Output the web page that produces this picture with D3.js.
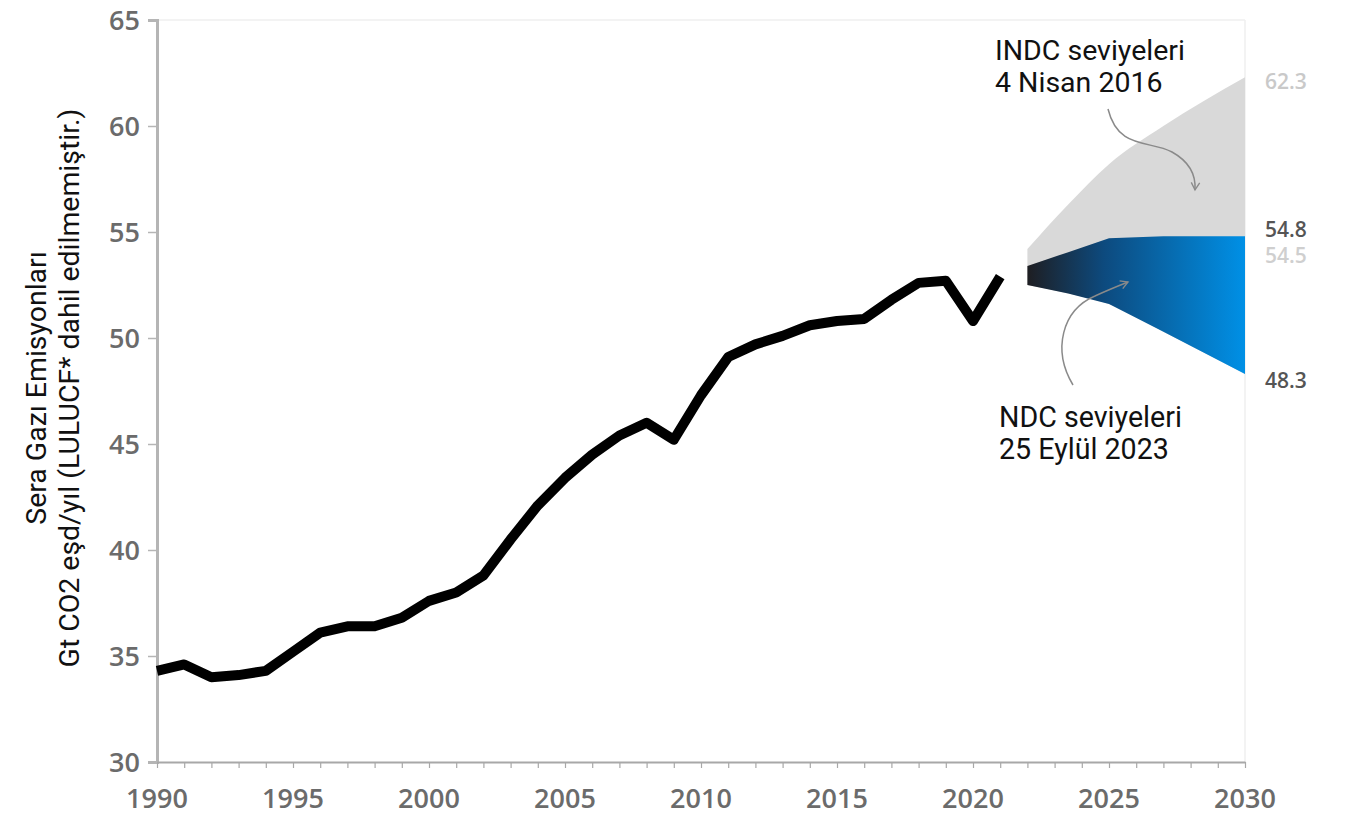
<!DOCTYPE html>
<html>
<head>
<meta charset="utf-8">
<script src="https://cdn.jsdelivr.net/npm/d3@7"></script>
<style>
  body { margin: 0; background: #fff; }
  svg { display: block; }
</style>
</head>
<body>
<div id="chart"></div>
<script>
var years = d3.range(1990, 2022);
var emissions = [34.3, 34.6, 34.0, 34.1, 34.3, 35.2, 36.1, 36.4, 36.4, 36.8,
                 37.6, 38.0, 38.8, 40.5, 42.1, 43.4, 44.5, 45.4, 46.0, 45.2,
                 47.3, 49.1, 49.7, 50.1, 50.6, 50.8, 50.9, 51.8, 52.6, 52.7,
                 50.8, 52.9];

// projection fans
var fanYears = [2022, 2023.5, 2025, 2027, 2030];
var indcHigh = [54.2, 56.3, 58.2, 60.0, 62.3];
var ndcHigh = [53.4, 54.05, 54.7, 54.8, 54.8];
var ndcLow = [52.5, 52.1, 51.6, 50.3, 48.3];

var yTicks = [30, 35, 40, 45, 50, 55, 60, 65];
var xTicks = [1990, 1995, 2000, 2005, 2010, 2015, 2020, 2025, 2030];

var endLabels = [
  {v: 62.3, text: "62.3", color: "#c9c9c9", dy: 12},
  {v: 54.8, text: "54.8", color: "#555", dy: 1},
  {v: 54.5, text: "54.5", color: "#cfcfcf", dy: 20},
  {v: 48.3, text: "48.3", color: "#555", dy: 14}
];

var width = 1357, height = 816;
var margin = {top: 20, right: 112, bottom: 54, left: 157};

var svg = d3.select("#chart").append("svg")
  .attr("width", width)
  .attr("height", height);

var x = d3.scaleLinear().domain([1990, 2030]).range([margin.left, width - margin.right]);
var y = d3.scaleLinear().domain([30, 65]).range([height - margin.bottom, margin.top]);

var defs = svg.append("defs");
var grad = defs.append("linearGradient")
  .attr("id", "ndcGrad")
  .attr("gradientUnits", "userSpaceOnUse")
  .attr("x1", x(2022)).attr("x2", x(2030))
  .attr("y1", 0).attr("y2", 0);
grad.append("stop").attr("offset", "0%").attr("stop-color", "#1e1e22");
grad.append("stop").attr("offset", "35%").attr("stop-color", "#0d4a7e");
grad.append("stop").attr("offset", "100%").attr("stop-color", "#0090e6");

var arrow = defs.append("marker")
  .attr("id", "arrowHead")
  .attr("viewBox", "0 0 10 10")
  .attr("refX", 8).attr("refY", 5)
  .attr("markerWidth", 7).attr("markerHeight", 7)
  .attr("orient", "auto");
arrow.append("path")
  .attr("d", "M1,1 L8,5 L1,9")
  .attr("fill", "none")
  .attr("stroke", "#8a8a8a")
  .attr("stroke-width", 1.3);

// faint frame
svg.append("line")
  .attr("x1", x(1990)).attr("x2", x(2030))
  .attr("y1", y(65)).attr("y2", y(65))
  .attr("stroke", "#efefef").attr("stroke-width", 1.5);
svg.append("line")
  .attr("x1", x(2030)).attr("x2", x(2030))
  .attr("y1", y(65)).attr("y2", y(30))
  .attr("stroke", "#efefef").attr("stroke-width", 1.5);

// fans
var fan = fanYears.map(function(yr, i) {
  return {year: yr, indc: indcHigh[i], hi: ndcHigh[i], lo: ndcLow[i]};
});

var indcArea = d3.area()
  .x(function(d) { return x(d.year); })
  .y0(function(d) { return y(d.lo); })
  .y1(function(d) { return y(d.indc); })
  .curve(d3.curveMonotoneX);
svg.append("path")
  .datum(fan)
  .attr("d", indcArea)
  .attr("fill", "#d9d9d9");

var ndcArea = d3.area()
  .x(function(d) { return x(d.year); })
  .y0(function(d) { return y(d.lo); })
  .y1(function(d) { return y(d.hi); })
  .curve(d3.curveLinear);
svg.append("path")
  .datum(fan)
  .attr("d", ndcArea)
  .attr("fill", "url(#ndcGrad)");

var tickFont = "'Open Sans', sans-serif";

// axes
var yAxis = svg.append("g")
  .attr("transform", "translate(" + margin.left + ",0)")
  .call(d3.axisLeft(y).tickValues(yTicks).tickSize(9).tickPadding(8));
yAxis.select(".domain").attr("stroke", "#b5b5b5").attr("stroke-width", 3);
yAxis.selectAll(".tick line").attr("stroke", "#b5b5b5").attr("stroke-width", 1.5);
yAxis.selectAll("text")
  .attr("fill", "#6b6b6b")
  .attr("dy", "0.36em")
  .style("font-family", tickFont)
  .style("font-weight", 600)
  .style("font-size", "27px");

var xAxis = svg.append("g")
  .attr("transform", "translate(0," + y(30) + ")")
  .call(d3.axisBottom(x).ticks(40).tickSize(6).tickFormat("").tickSizeOuter(0));
xAxis.select(".domain").attr("stroke", "#a8a8a8").attr("stroke-width", 2);
xAxis.selectAll(".tick line").attr("stroke", "#a8a8a8").attr("stroke-width", 1.2);

svg.append("g").selectAll("text")
  .data(xTicks)
  .join("text")
  .attr("x", function(d) { return x(d); })
  .attr("y", y(30) + 46)
  .attr("text-anchor", "middle")
  .attr("fill", "#6b6b6b")
  .style("font-family", tickFont)
  .style("font-weight", 600)
  .style("font-size", "27px")
  .text(function(d) { return d; });

// emissions line
var line = d3.line()
  .x(function(d, i) { return x(years[i]); })
  .y(function(d) { return y(d); })
  .curve(d3.curveLinear);
svg.append("path")
  .datum(emissions)
  .attr("d", line)
  .attr("fill", "none")
  .attr("stroke", "#000")
  .attr("stroke-width", 10)
  .attr("stroke-linejoin", "round");

// end labels
svg.append("g").selectAll("text")
  .data(endLabels)
  .join("text")
  .attr("x", x(2030) + 20)
  .attr("y", function(d) { return y(d.v) + d.dy; })
  .attr("fill", function(d) { return d.color; })
  .style("font-family", tickFont)
  .style("font-weight", 600)
  .style("font-size", "21px")
  .text(function(d) { return d.text; });

// annotations
var noteFont = "Roboto, 'Noto Sans', sans-serif";
function note(x0, y0, lines, gap, widthTarget) {
  var fs = 25;
  var texts = lines.map(function(s, i) {
    return svg.append("text")
      .attr("x", x0).attr("y", y0 + i * gap)
      .style("font-family", noteFont)
      .style("font-size", fs + "px")
      .attr("fill", "#111")
      .text(s);
  });
  var w = texts[0].node().getComputedTextLength();
  if (w > 0) {
    texts.forEach(function(t) {
      t.style("font-size", (fs * widthTarget / w).toFixed(2) + "px");
    });
  }
}
note(995, 60, ["INDC seviyeleri", "4 Nisan 2016"], 32, 190);
note(999, 427, ["NDC seviyeleri", "25 Eylül 2023"], 32, 183);

svg.append("path")
  .attr("d", "M1108,109 C1118,150 1150,140 1172,152 C1190,162 1196,175 1195,190")
  .attr("fill", "none")
  .attr("stroke", "#8a8a8a")
  .attr("stroke-width", 1.5)
  .attr("marker-end", "url(#arrowHead)");

svg.append("path")
  .attr("d", "M1073,385 C1052,350 1062,310 1095,296 C1108,290 1118,286 1128,282")
  .attr("fill", "none")
  .attr("stroke", "#8a8a8a")
  .attr("stroke-width", 1.5)
  .attr("marker-end", "url(#arrowHead)");

// y axis title
var yTitle = svg.append("text")
  .attr("transform", "translate(46,388) rotate(-90)")
  .attr("text-anchor", "middle")
  .attr("fill", "#111")
  .style("font-family", noteFont)
  .style("font-size", "26px");
yTitle.append("tspan").attr("x", 0).attr("y", 0).text("Sera Gazı Emisyonları");
var t2 = yTitle.append("tspan").attr("x", 0).attr("y", 33).text("Gt CO2 eşd/yıl (LULUCF* dahil edilmemiştir.)");
var w2 = t2.node().getComputedTextLength();
if (w2 > 0) yTitle.style("font-size", (26 * 559 / w2).toFixed(2) + "px");
</script>
</body>
</html>
